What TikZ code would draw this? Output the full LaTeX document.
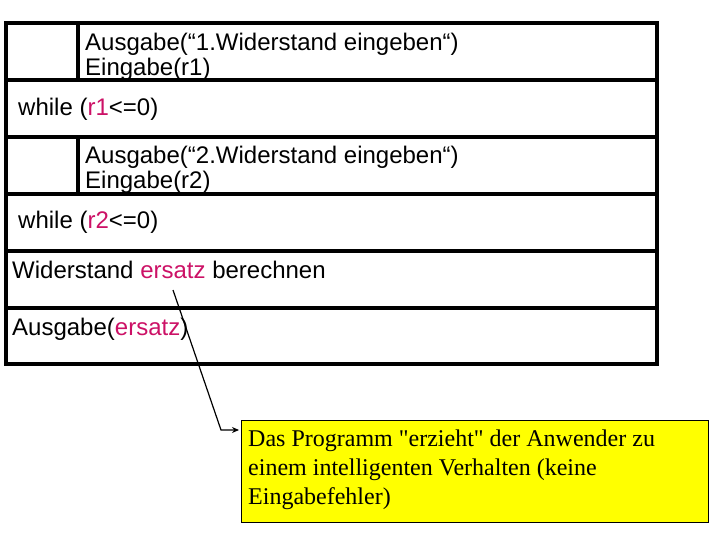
\documentclass[tikz,border=0pt]{standalone}
\usepackage{fontspec}
\setmainfont{Liberation Sans}
\newfontfamily\timesfont{Liberation Serif}
\usetikzlibrary{arrows.meta}
\definecolor{varred}{HTML}{CC1166}
\definecolor{noteyellow}{HTML}{FFFF00}
\tikzset{
  nsline/.style={line width=4.5pt, line cap=rect},
  nstext/.style={anchor=base west, inner sep=0pt, font=\fontsize{24}{25.5}\selectfont, align=left},
  notebox/.style={draw=black, line width=0.8pt, fill=noteyellow, minimum width=467pt, minimum height=102pt, anchor=north west, inner sep=0pt},
  notetext/.style={anchor=base west, inner sep=0pt, font=\timesfont\fontsize{24}{29}\selectfont, align=left},
  pointer/.style={line width=1.2pt, -{Stealth[length=7pt,width=6pt]}}
}
\begin{document}
\begin{tikzpicture}[x=1pt,y=-1pt]
\useasboundingbox (0,0) rectangle (720,540);
% Nassi-Shneiderman structure
\draw[nsline] (6,23) rectangle (657,364);
\foreach \yy in {80,137,194,251,308} \draw[nsline] (6,\yy) -- (657,\yy);
\draw[nsline] (78,23) -- (78,80);
\draw[nsline] (78,137) -- (78,194);
% texts
\node[nstext] (a1) at (85,51) {Ausgabe(“1.Widerstand eingeben“)};
\node[nstext] (e1) at (85,76) {Eingabe(r1)};
\node[nstext] (w1) at (18,116) {while (\textcolor{varred}{r1}<=0)};
\node[nstext] (a2) at (85,164) {Ausgabe(“2.Widerstand eingeben“)};
\node[nstext] (e2) at (85,189) {Eingabe(r2)};
\node[nstext] (w2) at (18,229) {while (\textcolor{varred}{r2}<=0)};
\node[nstext] (calc) at (12,278) {Widerstand \textcolor{varred}{ersatz} berechnen};
\node[nstext] (out) at (12,335) {Ausgabe(\textcolor{varred}{ersatz})};
% note
\node[notebox] (note) at (241,420) {};
\node[notetext] (l1) at (248,446) {Das Programm "erzieht" der Anwender zu};
\node[notetext] (l2) at (248,475) {einem intelligenten Verhalten (keine};
\node[notetext] (l3) at (248,504) {Eingabefehler)};
% pointer
\coordinate (src) at (173,290);
\coordinate (bend) at (221,430);
\coordinate (tip) at (239,430);
\draw[pointer] (src) -- (bend) -- (tip);
\end{tikzpicture}
\end{document}
